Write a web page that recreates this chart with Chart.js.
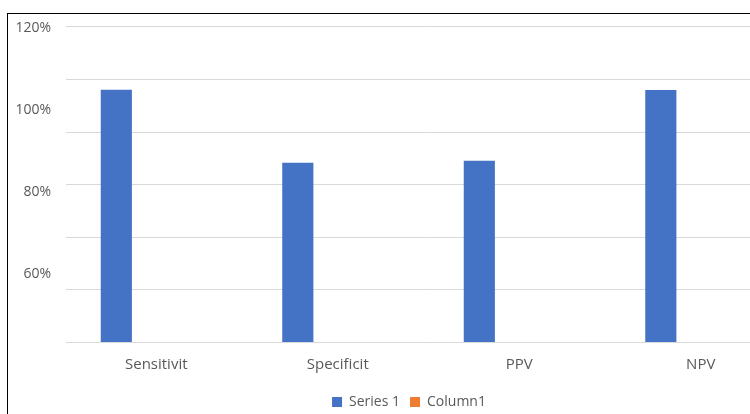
<!DOCTYPE html>
<html>
<head>
<meta charset="utf-8">
<script src="https://cdn.jsdelivr.net/npm/chart.js@4/dist/chart.umd.min.js"></script>
<style>
  html, body { margin: 0; padding: 0; width: 750px; height: 414px; overflow: hidden; background: #fff; }
  #frame { position: absolute; left: 7px; top: 13px; width: 800px; height: 420px; border-top: 1px solid #000; border-left: 1px solid #000; }
  #wrap { position: absolute; left: 8px; top: 4px; width: 804px; height: 416px; }
</style>
</head>
<body>
<div id="frame"></div>
<div id="wrap"><canvas id="c" width="804" height="416"></canvas></div>
<script>
const categories = ['Sensitivit', 'Specificit', 'PPV', 'NPV'];
const series1 = [96.1, 68.3, 69.1, 96.0];
const column1 = [null, null, null, null];
const yLabelTicks = [60, 80, 100, 120];

const legendShift = {
  id: 'legendShift',
  afterLayout(chart) {
    const lg = chart.legend;
    if (lg) { lg.left += 9.25; lg.right += 9.25; }
  }
};

const ctx = document.getElementById('c').getContext('2d');
new Chart(ctx, {
  type: 'bar',
  plugins: [legendShift],
  data: {
    labels: categories,
    datasets: [
      { label: 'Series 1', data: series1, backgroundColor: '#4472C4', borderWidth: 0, yAxisID: 'y', categoryPercentage: 0.88, barPercentage: 0.39 },
      { label: 'Column1', data: column1, backgroundColor: '#ED7D31', borderWidth: 0, yAxisID: 'y', categoryPercentage: 0.88, barPercentage: 0.39 }
    ]
  },
  options: {
    responsive: false,
    animation: false,
    layout: { padding: { left: 0, right: 20.5, top: 0, bottom: 1 } },
    plugins: {
      tooltip: { enabled: false },
      legend: {
        position: 'bottom',
        labels: {
          boxWidth: 10, boxHeight: 10, padding: 10,
          color: '#595959',
          font: { family: 'Open Sans', size: 14 }
        }
      }
    },
    scales: {
      x: {
        offset: true,
        grid: { display: false, drawTicks: false },
        border: { display: false },
        ticks: { color: '#595959', font: { family: 'Open Sans', size: 15 }, padding: 13, maxRotation: 0, autoSkip: false },
        afterFit: (s) => { s.height = 42.5; }
      },
      y: {
        position: 'left',
        min: 0, max: 120,
        ticks: { display: false, stepSize: 20 },
        grid: { color: '#d9d9d9', lineWidth: 1, drawTicks: false },
        border: { display: false },
        afterFit: (s) => { s.width = 0; }
      },
      yl: {
        position: 'left',
        min: 43.4, max: 120.2,
        grid: { display: false, drawTicks: false },
        border: { display: false },
        ticks: { color: '#595959', font: { family: 'Open Sans', size: 14 }, padding: 14.5, callback: (v) => v + '%' },
        afterBuildTicks: (s) => { s.ticks = yLabelTicks.map(v => ({ value: v })); },
        afterFit: (s) => { s.width = 57.5; }
      }
    }
  }
});
</script>
</body>
</html>
